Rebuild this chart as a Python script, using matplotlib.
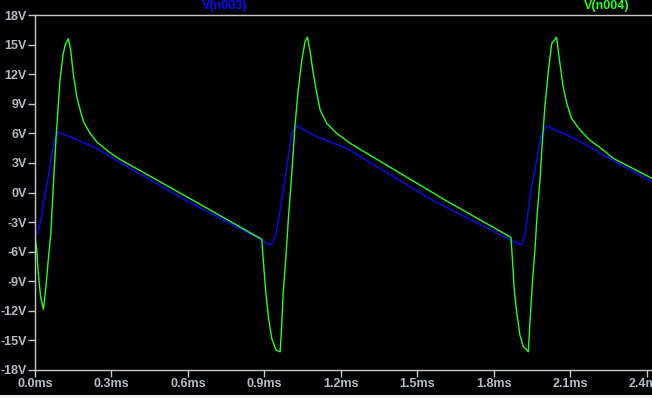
import matplotlib
matplotlib.use("Agg")
import matplotlib.pyplot as plt
from matplotlib.patches import Rectangle
from matplotlib.ticker import FuncFormatter, MultipleLocator

plt.rcParams["font.family"] = ["Liberation Sans", "DejaVu Sans"]

# time (ms) / voltage (V)
t_n003 = [0.000, 0.013, 0.026, 0.035, 0.046, 0.056, 0.066, 0.072, 0.078, 0.091,
          0.137, 0.242, 0.294, 0.589, 0.890, 0.922, 0.935, 0.949, 0.962, 0.974,
          0.988, 0.998, 1.007, 1.027, 1.106, 1.223, 1.558, 1.868, 1.910, 1.923,
          1.936, 1.949, 1.962, 1.975, 1.989, 2.008, 2.087, 2.165, 2.217, 2.421]
v_n003 = [-4.48, -3.80, -2.46, -0.76, 0.59, 2.28, 3.90, 4.80, 5.50, 6.10,
          5.66, 4.48, 3.63, -0.76, -4.80, -5.33, -5.00, -3.80, -1.78, 0.25,
          2.62, 4.30, 6.00, 6.74, 5.66, 4.48, -0.76, -4.85, -5.33, -4.30,
          -1.78, 0.59, 2.28, 4.30, 6.00, 6.74, 5.83, 4.82, 3.97, 1.10]

t_n004 = [0.000, 0.007, 0.013, 0.022, 0.033, 0.043, 0.052, 0.062, 0.069, 0.076,
          0.080, 0.082, 0.098, 0.111, 0.120, 0.131, 0.140, 0.150, 0.164, 0.177,
          0.190, 0.216, 0.242, 0.281, 0.327, 0.621, 0.890, 0.896, 0.905, 0.916,
          0.929, 0.946, 0.962, 0.968, 0.974, 0.984, 0.994, 1.004, 1.014, 1.020,
          1.033, 1.047, 1.060, 1.069, 1.079, 1.092, 1.106, 1.119, 1.145, 1.184,
          1.236, 1.609, 1.868, 1.873, 1.881, 1.891, 1.903, 1.916, 1.936, 1.943,
          1.952, 1.962, 1.971, 1.982, 1.989, 2.001, 2.015, 2.028, 2.047, 2.060,
          2.073, 2.087, 2.106, 2.139, 2.178, 2.217, 2.270, 2.421]
v_n004 = [-4.48, -5.83, -8.20, -10.57, -11.85, -9.56, -6.85, -4.15, -0.76, 2.62,
          4.30, 5.30, 11.40, 14.10, 15.10, 15.60, 14.45, 12.10, 9.70, 8.40,
          7.20, 6.00, 5.15, 4.30, 3.46, -0.80, -4.75, -6.85, -9.90, -12.60,
          -14.80, -15.97, -16.15, -13.60, -10.20, -6.85, -2.80, 0.59, 4.30, 6.67,
          10.40, 13.40, 15.30, 15.74, 14.45, 12.10, 10.06, 8.37, 7.00, 6.00,
          5.00, -0.76, -4.55, -6.50, -9.90, -12.25, -14.45, -15.60, -16.15, -12.90,
          -9.20, -5.83, -2.10, 1.27, 4.30, 8.70, 12.40, 15.10, 15.74, 13.10,
          10.70, 9.04, 7.50, 6.34, 5.30, 4.58, 3.46, 1.44]

TRACE_LABELS = ["V(n003)", "V(n004)"]
BLUE = "#0a0aff"
GREEN = "#22ff22"
AXIS_GREY = "#c8c8c8"
TICK_TEXT = "#b4bcc8"

W, H = 652, 398
fig = plt.figure(figsize=(W / 100, H / 100), dpi=100, facecolor="black")
# plot box: left edge x=35px, top y=15px, bottom y=370px, runs off the right side
ax = fig.add_axes([35 / W, (H - 370) / H, (652 - 35) / W, (370 - 15) / H])
ax.set_facecolor("black")

ax.plot(t_n003, v_n003, color=BLUE, linewidth=1.0)
ax.plot(t_n004, v_n004, color=GREEN, linewidth=1.0)

ax.set_xlim(0, 2.4215)
ax.set_ylim(-18, 18)
ax.xaxis.set_major_locator(MultipleLocator(0.3))
ax.yaxis.set_major_locator(MultipleLocator(3))
ax.xaxis.set_major_formatter(FuncFormatter(lambda v, _: f"{v:.1f}ms"))
ax.yaxis.set_major_formatter(FuncFormatter(lambda v, _: f"{v:.0f}V".replace("\u2212", "-")))

for side in ("left", "top", "bottom"):
    ax.spines[side].set_color(AXIS_GREY)
    ax.spines[side].set_linewidth(1.0)
ax.spines["right"].set_visible(False)

ax.tick_params(axis="both", colors=AXIS_GREY, length=5, width=1.0,
               labelcolor=TICK_TEXT, labelsize=9)
ax.tick_params(axis="x", pad=1)
ax.tick_params(axis="y", pad=1)
for lab in ax.get_xticklabels() + ax.get_yticklabels():
    lab.set_fontweight("bold")

fig.text(225 / W, 1 - 6 / H, TRACE_LABELS[0], color=BLUE, fontsize=9,
         fontweight="bold", ha="center", va="center")
fig.text(607 / W, 1 - 6 / H, TRACE_LABELS[1], color=GREEN, fontsize=9,
         fontweight="bold", ha="center", va="center")

# window border strip at the very bottom
fig.add_artist(Rectangle((0, 0), 1, 3 / H, transform=fig.transFigure,
                         facecolor="#f0f0f0", edgecolor="none"))

fig.savefig("out.png", dpi=100, facecolor="black")
